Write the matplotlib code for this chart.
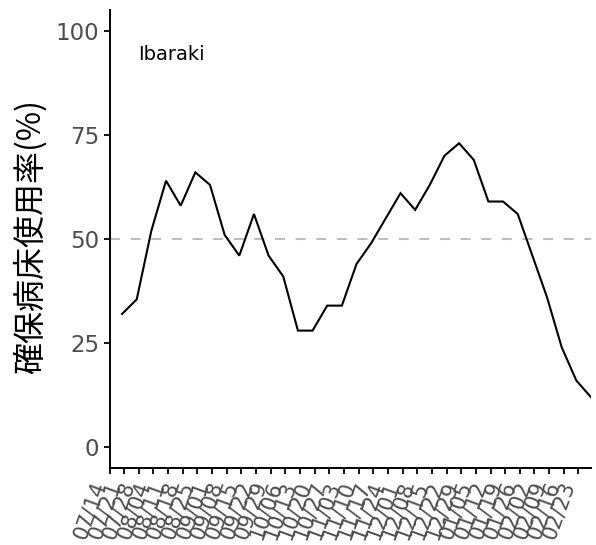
import matplotlib
matplotlib.use("Agg")
import matplotlib.pyplot as plt
import pandas as pd

# ---- data ----
tick_labels = ["07/14", "07/21", "07/28", "08/04", "08/11", "08/18", "08/25",
               "09/01", "09/08", "09/15", "09/22", "09/29", "10/06", "10/13",
               "10/20", "10/27", "11/03", "11/10", "11/17", "11/24", "12/01",
               "12/08", "12/15", "12/22", "12/29", "01/05", "01/12", "01/19",
               "01/26", "02/02", "02/09", "02/16", "02/23"]
tick_dates = pd.date_range("2020-07-14", periods=len(tick_labels), freq="7D")
data_dates = pd.date_range("2020-07-20", periods=33, freq="7D")
usage = [32, 35.5, 52, 64, 58, 66, 63, 51, 46, 56, 46, 41, 28, 28, 34, 34, 44,
         49, 55, 61, 57, 63, 70, 73, 69, 59, 59, 56, 46, 36, 24, 16, 12]
y_ticks = [0, 25, 50, 75, 100]
threshold = 50
region = "Ibaraki"
ylabel = "確保病床使用率(%)"

# ---- figure ----
W, H, DPI = 596, 545, 100
fig = plt.figure(figsize=(W / DPI, H / DPI), dpi=DPI)
ax = fig.add_axes([109.5 / W, (H - 468) / H, (591 - 109.5) / W, (468 - 10) / H])

ax.axhline(threshold, color="#BEBEBE", lw=1.5, linestyle=(0, (4.8, 5.1)), zorder=1)
ax.plot(data_dates, usage, color="black", lw=1.5, zorder=2, solid_joinstyle="miter")

ax.set_xlim(tick_dates[0], data_dates[-1])
ax.set_ylim(-5, 105)
ax.set_xticks(tick_dates)
ax.set_xticklabels(tick_labels, rotation=70, ha="right", va="top",
                   fontsize=15, color="#4D4D4D", family="DejaVu Sans")
ax.set_yticks(y_ticks)
ax.set_yticklabels([str(v) for v in y_ticks], fontsize=16.5, color="#4D4D4D",
                   family="DejaVu Sans")

for s in ["top", "right"]:
    ax.spines[s].set_visible(False)
for s in ["left", "bottom"]:
    ax.spines[s].set_linewidth(1.4)
    ax.spines[s].set_color("black")
ax.tick_params(axis="both", length=4.5, width=1.3, color="black", pad=3)

ax.text(0.059, 0.891, region, transform=ax.transAxes, ha="left", va="baseline",
        fontsize=14, color="black", family="DejaVu Sans")

fig.text(30 / W, 1 - 237 / H, ylabel, rotation=90, ha="center", va="center",
         fontsize=23, color="black", family=["Noto Sans CJK JP", "DejaVu Sans"])

fig.savefig("out.png", dpi=DPI)
